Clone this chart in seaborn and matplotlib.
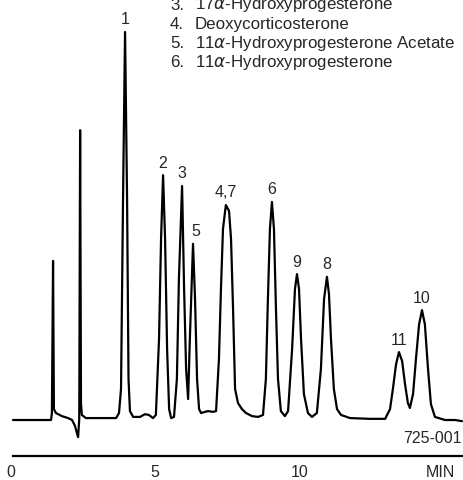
import matplotlib
matplotlib.use('Agg')
import matplotlib.pyplot as plt
import seaborn as sns
import pandas as pd

# trace: time (min) and response (% of peak 1)
time_min = [0.06, 1.38, 1.41, 1.45, 1.48, 1.55, 1.76, 1.97, 2.11, 2.21, 2.28, 2.32, 2.36,
            2.39, 2.42, 2.45, 2.59, 3.08, 3.64, 3.74, 3.81, 3.88, 3.95, 4.02, 4.07, 4.12,
            4.23, 4.47, 4.64, 4.78, 4.92, 5.02, 5.13, 5.20, 5.27, 5.34, 5.41, 5.48, 5.55,
            5.65, 5.75, 5.82, 5.93, 6.00, 6.07, 6.14, 6.20, 6.31, 6.38, 6.45, 6.52, 6.59,
            6.73, 6.83, 7.00, 7.11, 7.21, 7.28, 7.35, 7.45, 7.56, 7.63, 7.70, 7.77, 7.87,
            8.01, 8.15, 8.36, 8.57, 8.74, 8.84, 8.91, 8.98, 9.05, 9.12, 9.19, 9.26, 9.36,
            9.50, 9.61, 9.75, 9.85, 9.92, 9.99, 10.06, 10.16, 10.30, 10.44, 10.61, 10.75,
            10.86, 10.96, 11.03, 11.10, 11.20, 11.31, 11.45, 11.76, 12.45, 12.98, 13.15,
            13.25, 13.36, 13.46, 13.57, 13.67, 13.77, 13.84, 13.95, 14.05, 14.16, 14.26,
            14.36, 14.47, 14.57, 14.71, 15.06, 15.41, 15.65]
response = [0, 0, 1.8, 41.0, 2.8, 1.8, 1.0, 0.5, 0, -1.5, -3.4, -4.4, 0.3,
            74.7, 4.1, 1.3, 0.5, 0.5, 0.5, 1.8, 8.0, 57.0, 100, 57.0, 10.6, 2.3,
            0.8, 0.8, 1.5, 1.3, 0.5, 1.3, 20.9, 46.6, 63.1, 46.6, 18.3, 2.8, 0.5,
            0.8, 10.6, 36.3, 60.3, 33.8, 13.1, 5.4, 20.9, 45.4, 31.2, 10.6, 2.8, 1.8,
            2.1, 2.3, 2.1, 2.3, 15.7, 33.8, 49.2, 55.4, 53.9, 46.6, 28.6, 8.0, 4.4,
            2.8, 1.8, 1.0, 0.8, 1.3, 10.6, 31.2, 49.2, 56.2, 49.2, 28.6, 10.6, 2.3,
            1.0, 2.3, 18.3, 33.8, 37.6, 33.8, 20.9, 6.7, 1.8, 0.8, 1.8, 13.1,
            31.2, 36.9, 32.5, 20.9, 8.0, 2.8, 1.3, 0.5, 0.3, 0.3, 2.8,
            8.0, 14.4, 17.5, 15.2, 9.3, 4.4, 3.1, 6.7, 15.7, 24.7, 28.3,
            24.7, 13.1, 4.1, 0.8, 0, 0, -0.3]

# peak labels
peak_names = ['1', '2', '3', '5', '4,7', '6', '9', '8', '11', '10']
peak_time = [3.95, 5.27, 5.93, 6.31, 7.45, 9.05, 9.92, 10.96, 13.46, 14.26]
peak_resp = [100, 63.1, 60.3, 45.4, 55.4, 56.2, 37.6, 36.9, 17.5, 28.3]

# compound list (top of list is cut off in the original)
key_nums = ['3.', '4.', '5.', '6.']
key_names = [r'17$\alpha$-Hydroxyprogesterone', 'Deoxycorticosterone',
             r'11$\alpha$-Hydroxyprogesterone Acetate', r'11$\alpha$-Hydroxyprogesterone']

tick_vals = [0, 5, 10, 14.89]
tick_text = ['0', '5', '10', 'MIN']

sns.set_style('white')
plt.rcParams['font.family'] = ['Liberation Sans', 'DejaVu Sans']
plt.rcParams['mathtext.fontset'] = 'dejavusans'

df = pd.DataFrame({'t': time_min, 'r': response})

fig = plt.figure(figsize=(4.63, 4.81), dpi=100)
ax = fig.add_axes([0, 0, 1, 1])
sns.lineplot(data=df, x='t', y='r', ax=ax, color='black', lw=1.6,
             estimator=None, sort=False)

ax.set_xlim(-0.392, 15.684)
ax.set_ylim(-15.46, 108.5)

for name, t, r in zip(peak_names, peak_time, peak_resp):
    dx = 2 if name == '5' else 0
    ax.annotate(name, (t, r), xytext=(dx, 4), textcoords='offset points',
                ha='center', va='bottom', fontsize=11.5)

for i, (num, name) in enumerate(zip(key_nums, key_names)):
    y = 1 - (5 + 19.2 * i) / 481
    fig.text(170 / 463, y, num, fontsize=12.2, va='center', ha='left')
    fig.text(195 / 463, y, name, fontsize=12.2, va='center', ha='left')

ax.text(15.65, -4.4, '725-001', fontsize=11.5, ha='right', va='center')

for s in ['top', 'right', 'left']:
    ax.spines[s].set_visible(False)
ax.spines['bottom'].set_position(('data', -9.28))
ax.spines['bottom'].set_bounds(0.06, 15.65)
ax.spines['bottom'].set_linewidth(1.6)
ax.spines['bottom'].set_color('black')
ax.set_xticks(tick_vals)
ax.set_xticklabels(tick_text, fontsize=11.5)
ax.tick_params(axis='x', length=0, pad=6)
ax.set_yticks([])
ax.set_xlabel('')
ax.set_ylabel('')

fig.savefig('out.png', dpi=100)
